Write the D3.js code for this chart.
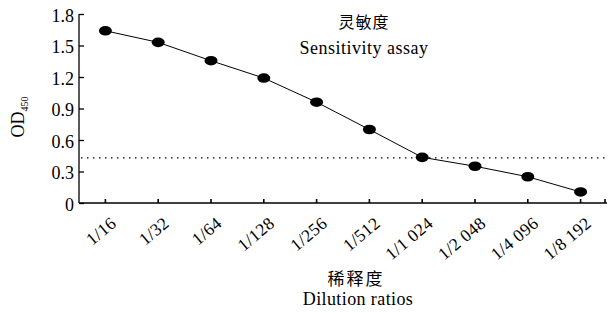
<!DOCTYPE html>
<html>
<head>
<meta charset="utf-8">
<script src="https://cdn.jsdelivr.net/npm/d3@7"></script>
<style>
  body { margin: 0; background: #fff; }
  text { font-family: "Liberation Serif", "Times New Roman", serif; fill: #000; }
  .cjk { font-family: "Noto Sans CJK SC", sans-serif; }
</style>
</head>
<body>
<svg width="608" height="313"></svg>
<script>
// dilution categories and OD450 readings
var dilutions = ["1/16", "1/32", "1/64", "1/128", "1/256", "1/512", "1/1 024", "1/2 048", "1/4 096", "1/8 192"];
var odValues = [1.64, 1.53, 1.355, 1.19, 0.96, 0.70, 0.435, 0.35, 0.25, 0.105];
var yTicks = [0, 0.3, 0.6, 0.9, 1.2, 1.5, 1.8];
var cutoff = 0.43;

var svg = d3.select("svg"),
    plotLeft = 79, plotRight = 607, plotTop = 14, plotBottom = 203;

var x = d3.scaleBand()
    .domain(dilutions)
    .range([plotLeft, plotRight]);

var y = d3.scaleLinear()
    .domain([0, 1.8])
    .range([plotBottom, plotTop]);

/*y axis, ticks pointing inside*/
var yAxis = svg.append("g")
    .attr("transform", "translate(" + plotLeft + ",0)")
    .call(d3.axisLeft(y).tickValues(yTicks)
      .tickSize(-5).tickPadding(5)
      .tickFormat(function(d) { return d === 0 ? "0" : d3.format(".1f")(d); }));
yAxis.select(".domain").attr("d", "M0," + plotTop + "V" + plotBottom).attr("stroke-width", 1.3);
yAxis.selectAll("line").attr("stroke-width", 1.3);
yAxis.selectAll("text").attr("font-size", 18).attr("dy", "0.4em");

/*x axis*/
var xAxis = svg.append("g")
    .attr("transform", "translate(0," + plotBottom + ")")
    .call(d3.axisBottom(x).tickSize(-4).tickPadding(0));
xAxis.select(".domain").attr("d", "M" + plotLeft + ",0H" + plotRight).attr("stroke-width", 1.3);
xAxis.selectAll("line").attr("stroke-width", 1.6);
xAxis.selectAll("text")
    .attr("font-size", 17.5)
    .attr("letter-spacing", 0.4)
    .attr("text-anchor", "end")
    .attr("dy", 0)
    .attr("transform", "translate(12,22) rotate(-40)");

/*end tick*/
xAxis.append("line")
    .attr("x1", plotRight - 2).attr("x2", plotRight - 2)
    .attr("y1", 0).attr("y2", -4)
    .attr("stroke", "#000").attr("stroke-width", 1.6);

/*cutoff dotted line*/
svg.append("line")
    .attr("x1", plotLeft + 2).attr("x2", plotRight - 2)
    .attr("y1", y(cutoff)).attr("y2", y(cutoff))
    .attr("stroke", "#000")
    .attr("stroke-width", 1.2)
    .attr("stroke-dasharray", "1.5,4.5");

var cx = function(d, i) { return x(dilutions[i]) + x.bandwidth() / 2; };

svg.append("path")
    .datum(odValues)
    .attr("fill", "none")
    .attr("stroke", "#000")
    .attr("stroke-width", 1)
    .attr("d", d3.line().x(cx).y(function(d) { return y(d); }));

svg.selectAll("ellipse")
  .data(odValues)
  .enter().append("ellipse")
    .attr("cx", cx)
    .attr("cy", function(d) { return y(d); })
    .attr("rx", 6.5)
    .attr("ry", 4.8)
    .attr("fill", "#000");

/*titles*/
svg.append("text").attr("class", "cjk")
    .attr("x", 364).attr("y", 28)
    .attr("text-anchor", "middle").attr("font-size", 16)
    .attr("letter-spacing", 1)
    .text("灵敏度");
svg.append("text")
    .attr("x", 364).attr("y", 54)
    .attr("text-anchor", "middle").attr("font-size", 18)
    .attr("letter-spacing", 0.5)
    .text("Sensitivity assay");

svg.append("text").attr("class", "cjk")
    .attr("x", 356).attr("y", 285)
    .attr("text-anchor", "middle").attr("font-size", 17)
    .attr("letter-spacing", 2)
    .text("稀释度");
svg.append("text")
    .attr("x", 358).attr("y", 305)
    .attr("text-anchor", "middle").attr("font-size", 18)
    .attr("letter-spacing", 0.4)
    .text("Dilution ratios");

var yl = svg.append("text")
    .attr("transform", "translate(24,117) rotate(-90)")
    .attr("text-anchor", "middle")
    .attr("font-size", 18);
yl.append("tspan").text("OD");
yl.append("tspan").attr("font-size", 10).attr("dy", 4).text("450");
</script>
</body>
</html>
